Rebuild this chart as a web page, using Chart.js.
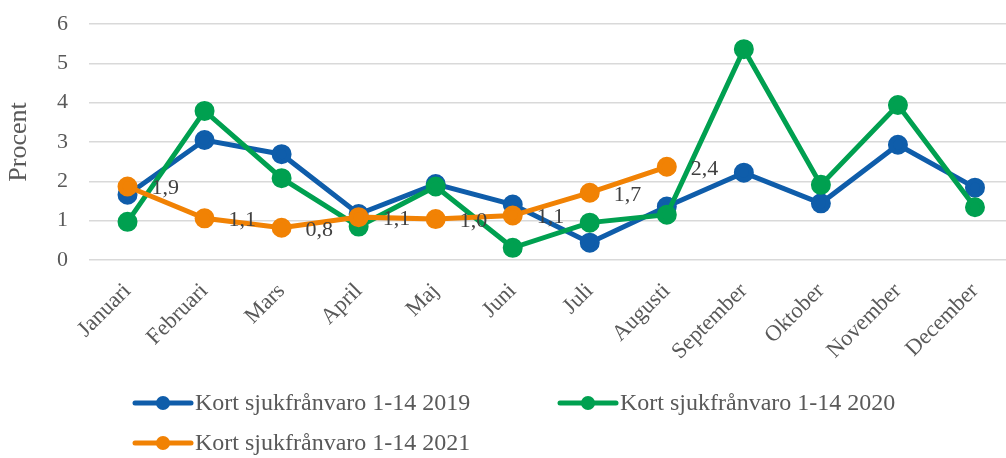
<!DOCTYPE html>
<html>
<head>
<meta charset="utf-8">
<script src="https://cdn.jsdelivr.net/npm/chart.js@4.4.1/dist/chart.umd.min.js"></script>
<style>
  html, body { margin: 0; padding: 0; background: #fff; overflow: hidden; }
  #wrap { width: 1026px; height: 458px; position: relative; }
</style>
</head>
<body>
<div id="wrap"><canvas id="chart"></canvas></div>
<script>
// data
const months = ['Januari', 'Februari', 'Mars', 'April', 'Maj', 'Juni', 'Juli', 'Augusti', 'September', 'Oktober', 'November', 'December'];
const sick2019 = [1.66, 3.05, 2.69, 1.17, 1.93, 1.41, 0.44, 1.36, 2.22, 1.44, 2.93, 1.84];
const sick2020 = [0.97, 3.79, 2.08, 0.85, 1.87, 0.31, 0.95, 1.15, 5.36, 1.91, 3.94, 1.34];
const sick2021 = [1.87, 1.06, 0.82, 1.09, 1.04, 1.13, 1.71, 2.37];
const yTicks = [0, 1, 2, 3, 4, 5, 6];
const seriesNames = ['Kort sjukfrånvaro 1-14 2019', 'Kort sjukfrånvaro 1-14 2020', 'Kort sjukfrånvaro 1-14 2021'];

const textColor = '#595959';
const serif = "'Liberation Serif', 'Times New Roman', serif";

function series(label, data, color, order, showLabels) {
  return {
    label: label,
    data: data,
    borderColor: color,
    backgroundColor: color,
    pointBackgroundColor: color,
    pointBorderColor: color,
    borderWidth: 5,
    pointRadius: 7.5,
    pointHoverRadius: 7.5,
    tension: 0,
    order: order,
    showLabels: showLabels
  };
}

// value labels for the 2021 line (right of each point)
const valueLabels = {
  id: 'valueLabels',
  afterDatasetsDraw(chart) {
    const ctx = chart.ctx;
    ctx.save();
    ctx.font = '22px ' + serif;
    ctx.fillStyle = '#404040';
    ctx.textAlign = 'left';
    ctx.textBaseline = 'middle';
    chart.data.datasets.forEach((ds, i) => {
      if (!ds.showLabels) return;
      chart.getDatasetMeta(i).data.forEach((pt, j) => {
        const v = ds.data[j];
        if (v == null) return;
        ctx.fillText(v.toFixed(1).replace('.', ','), pt.x + 24, pt.y + 2);
      });
    });
    ctx.restore();
  }
};

// legend laid out like the original (two columns, left aligned rows)
const sideLegend = {
  id: 'sideLegend',
  afterDraw(chart) {
    const ctx = chart.ctx;
    const slots = [[135, 403], [560, 403], [135, 443]];
    ctx.save();
    ctx.font = '24px ' + serif;
    ctx.textBaseline = 'middle';
    ctx.textAlign = 'left';
    chart.data.datasets.forEach((ds, i) => {
      const [x, y] = slots[i];
      ctx.strokeStyle = ds.borderColor;
      ctx.lineWidth = 5;
      ctx.lineCap = 'round';
      ctx.beginPath();
      ctx.moveTo(x, y);
      ctx.lineTo(x + 56, y);
      ctx.stroke();
      ctx.fillStyle = ds.borderColor;
      ctx.beginPath();
      ctx.arc(x + 28, y, 7, 0, Math.PI * 2);
      ctx.fill();
      ctx.fillStyle = textColor;
      ctx.fillText(ds.label, x + 60, y + 1);
    });
    ctx.restore();
  }
};

new Chart(document.getElementById('chart'), {
  type: 'line',
  data: {
    labels: months,
    datasets: [
      series(seriesNames[0], sick2019, '#0F5DAA', 3, false),
      series(seriesNames[1], sick2020, '#00A050', 2, false),
      series(seriesNames[2], sick2021, '#F18204', 1, true)
    ]
  },
  options: {
    responsive: true,
    maintainAspectRatio: false,
    animation: false,
    layout: { padding: { left: 0, right: 1, top: 24, bottom: 0 } },
    plugins: {
      legend: { display: false },
      tooltip: { enabled: false }
    },
    scales: {
      x: {
        offset: true,
        grid: { display: false },
        border: { display: false },
        ticks: {
          color: textColor,
          font: { family: serif, size: 22.5 },
          minRotation: 45,
          maxRotation: 45,
          padding: 10
        },
        afterFit(scale) {
          scale.height = 198;
          scale.paddingLeft = 0;
          scale.paddingRight = 0;
        }
      },
      y: {
        min: 0,
        max: 6,
        afterBuildTicks(scale) { scale.ticks = yTicks.map(v => ({ value: v })); },
        grid: { color: '#d9d9d9', lineWidth: 1.5, drawTicks: false },
        border: { display: false },
        ticks: {
          color: textColor,
          font: { family: serif, size: 22 },
          padding: 21
        },
        title: {
          display: true,
          text: 'Procent',
          color: textColor,
          font: { family: serif, size: 26 },
          padding: { top: 4, bottom: 0 }
        },
        afterFit(scale) {
          scale.width = 89;
          scale.paddingTop = 0;
          scale.paddingBottom = 0;
        }
      }
    }
  },
  plugins: [valueLabels, sideLegend]
});
</script>
</body>
</html>
